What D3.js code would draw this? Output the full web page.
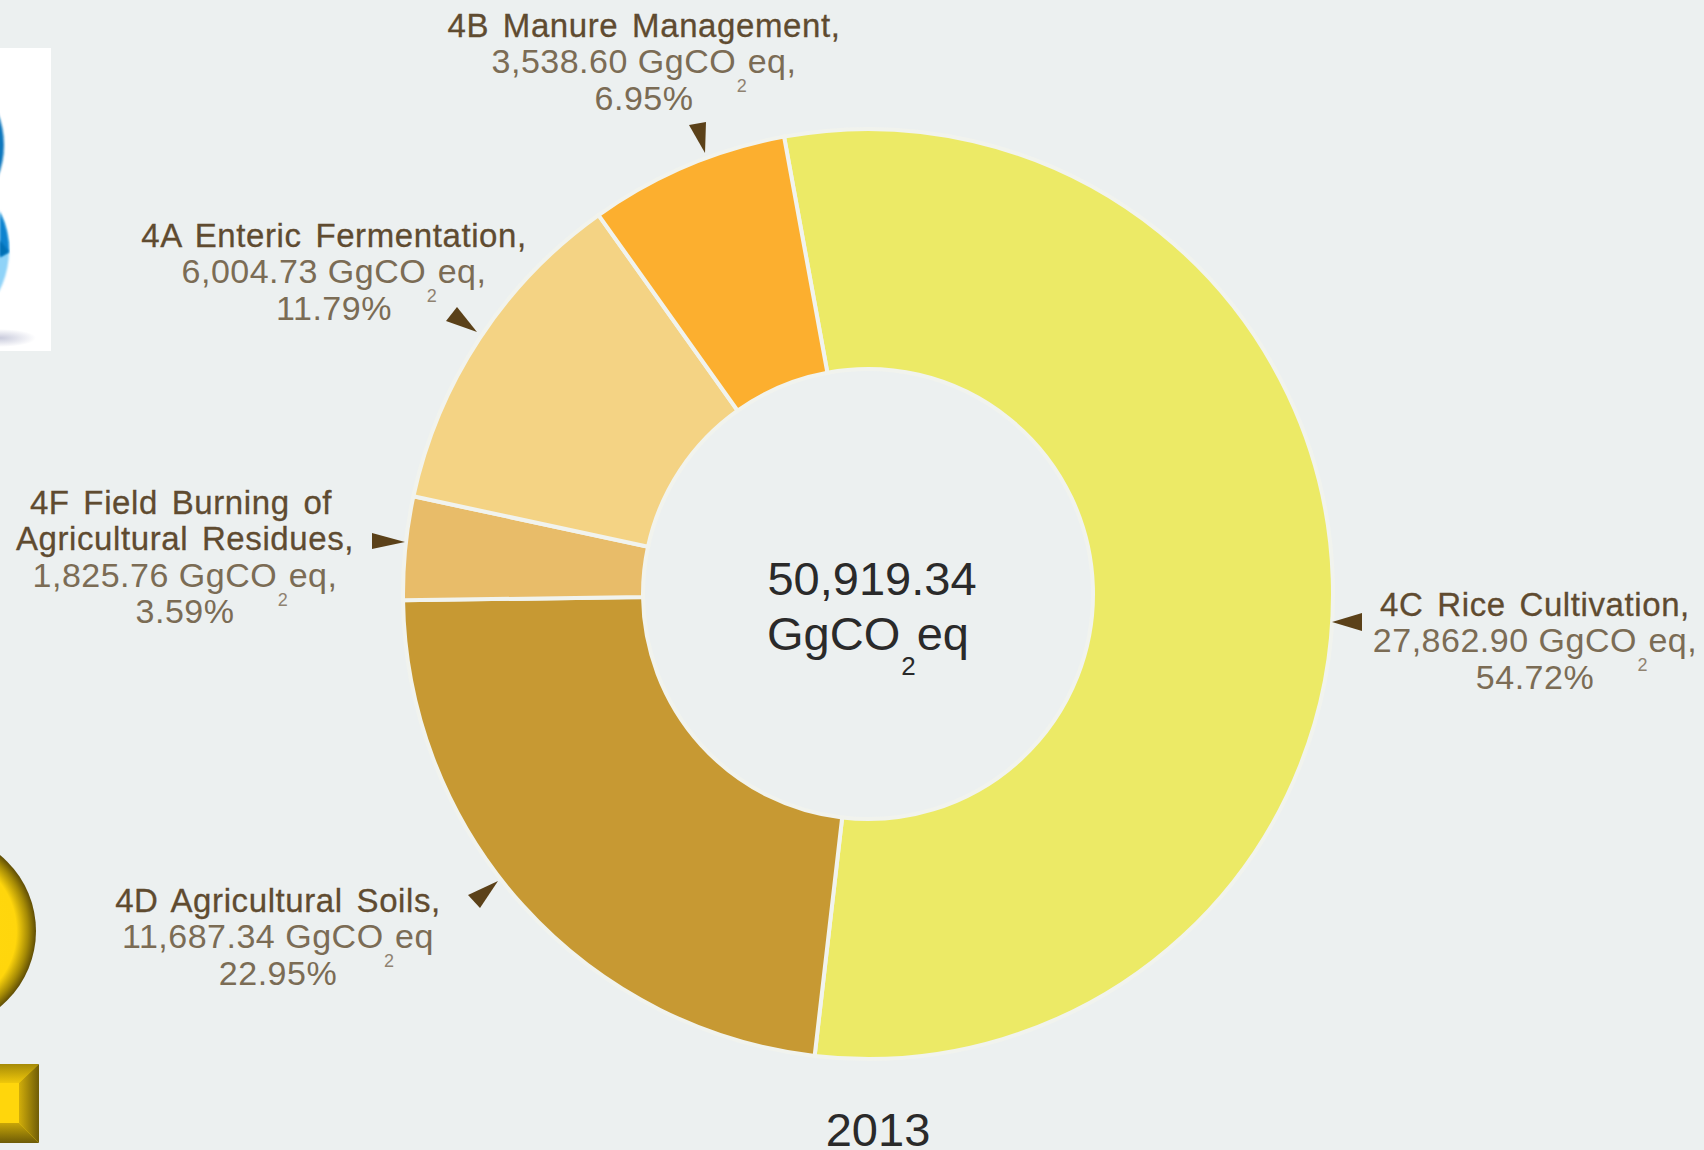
<!DOCTYPE html>
<html>
<head>
<meta charset="utf-8">
<script src="https://cdn.jsdelivr.net/npm/d3@7/dist/d3.min.js"></script>
<style>
html,body{margin:0;padding:0;background:#ecf0f0;}
svg{display:block;}
text{font-family:"Liberation Sans",Arial,sans-serif;}
</style>
</head>
<body>
<svg id="chart" width="1704" height="1150"></svg>
<script>
// Agriculture-sector emissions, 2013, in clockwise drawing order
const categories = ["4C Rice Cultivation,","4D Agricultural Soils,","4F Field Burning of Agricultural Residues,","4A Enteric Fermentation,","4B Manure Management,"];
const emissions = [27862.90, 11687.34, 1825.76, 6004.73, 3538.60];
const emissionLabels = ["27,862.90","11,687.34","1,825.76","6,004.73","3,538.60"];
const shareLabels = ["54.72%","22.95%","3.59%","11.79%","6.95%"];
const totalLabel = "50,919.34";
const yearLabel = "2013";
const palette = ["#ecea66","#c79933","#e8bc69","#f4d384","#fcaf2f"];

const W = 1704, H = 1150, cx = 868, cy = 594, outerR = 465, innerR = 225;
const startDeg = -10.4;

// Label placement: anchor x, first baseline, text after the unit
const placement = [
  {x:1535, y:616, unitEnd:","},
  {x:278,  y:912, unitEnd:""},
  {x:185,  y:514, unitEnd:",", firstDx:-4},
  {x:334,  y:247, unitEnd:","},
  {x:644,  y:37,  unitEnd:","}
];
// Pointer triangles placed as [tip, base, base]
const pointers = [
  [[1332,622],[1362,613],[1362,631]],
  [[498,881],[468,895],[480,908]],
  [[405,542],[372,533],[372,549]],
  [[477,332],[457,307],[446,321]],
  [[705,153],[689,125],[706,122]]
];

const svg = d3.select("#chart");
const defs = svg.append("defs");

// Bevel gradients for the clipped button shapes on the left edge
const rad = defs.append("radialGradient").attr("id","knob").attr("gradientUnits","userSpaceOnUse")
  .attr("cx",-62).attr("cy",931).attr("r",98);
[[0,"#ffd90f"],[0.8,"#ffd60c"],[0.92,"#a58a05"],[1,"#5f4d05"]].forEach(s=>rad.append("stop").attr("offset",s[0]).attr("stop-color",s[1]));
const bev = defs.append("linearGradient").attr("id","bevelR").attr("x1",0).attr("x2",1).attr("y1",0).attr("y2",0);
[[0,"#d2ae0a"],[1,"#6f5c06"]].forEach(s=>bev.append("stop").attr("offset",s[0]).attr("stop-color",s[1]));
const bevT = defs.append("linearGradient").attr("id","bevelT").attr("x1",0).attr("x2",0).attr("y1",0).attr("y2",1);
[[0,"#a58a08"],[1,"#f0c80a"]].forEach(s=>bevT.append("stop").attr("offset",s[0]).attr("stop-color",s[1]));
const bevB = defs.append("linearGradient").attr("id","bevelB").attr("x1",0).attr("x2",0).attr("y1",0).attr("y2",1);
[[0,"#c8a608"],[1,"#6d5b06"]].forEach(s=>bevB.append("stop").attr("offset",s[0]).attr("stop-color",s[1]));
const shadow = defs.append("radialGradient").attr("id","shade");
[[0,"#c9cbdc"],[1,"#ffffff"]].forEach(s=>shadow.append("stop").attr("offset",s[0]).attr("stop-color",s[1]));
defs.append("filter").attr("id","soft").append("feGaussianBlur").attr("stdDeviation",1);

// Left-edge panel with the two blue discs
const side = svg.append("g");
side.append("rect").attr("x",0).attr("y",48).attr("width",51).attr("height",303).attr("fill","#ffffff");
side.append("ellipse").attr("cx",0).attr("cy",338).attr("rx",36).attr("ry",9).attr("fill","url(#shade)");
side.append("circle").attr("cx",-83).attr("cy",145).attr("r",87).attr("fill","#0b77bd").attr("filter","url(#soft)");
side.append("circle").attr("cx",-77).attr("cy",251).attr("r",86).attr("fill","#8fd3f8").attr("filter","url(#soft)");
side.append("path").attr("d","M0,212 A86,86 0 0 1 9,252 L0,257 Z").attr("fill","#0a83cf").attr("filter","url(#soft)");
side.append("path").attr("d","M0,240 L9,252 L0,257 Z").attr("fill","#0570b5").attr("filter","url(#soft)");

// Gold round and square buttons
side.append("circle").attr("cx",-62).attr("cy",931).attr("r",98).attr("fill","url(#knob)");
side.append("rect").attr("x",-20).attr("y",1064).attr("width",59).attr("height",79).attr("rx",3).attr("fill","#ffd60c");
side.append("path").attr("d","M-20,1064 H39 L19,1083 H-20 Z").attr("fill","url(#bevelT)");
side.append("path").attr("d","M39,1064 V1143 L19,1123 V1083 Z").attr("fill","url(#bevelR)");
side.append("path").attr("d","M-20,1143 H39 L19,1123 H-20 Z").attr("fill","url(#bevelB)");

// Donut
const pie = d3.pie().sort(null).startAngle(startDeg*Math.PI/180).endAngle((startDeg+360)*Math.PI/180);
const arc = d3.arc().innerRadius(innerR).outerRadius(outerR);
svg.append("g").attr("transform",`translate(${cx},${cy})`)
  .selectAll("path").data(pie(emissions)).join("path")
  .attr("d",arc)
  .attr("fill",(d,i)=>palette[i])
  .attr("stroke","#f1f3ee").attr("stroke-width",4).attr("stroke-linejoin","miter");

// Pointers
svg.append("g").selectAll("path").data(pointers).join("path")
  .attr("d",d=>d3.line()(d)+"Z").attr("fill","#5b4119");

// "GgCO2eq" with a dropped subscript that sits between the two word parts
function unitText(sel, before, after, drop, subSize, gap){
  sel.append("tspan").text(before+"GgCO");
  sel.append("tspan").attr("dx",gap).attr("dy",drop).attr("font-size",subSize).attr("class","sub").text("2");
  sel.append("tspan").attr("dx",gap).attr("dy",-drop).text("eq"+after);
}

// Slice labels
const titleColor = "#5f4b30", bodyColor = "#7b6c55", lh = 36.4;
categories.forEach((name,i)=>{
  const p = placement[i];
  const g = svg.append("g").attr("text-anchor","middle");
  const lines = name === categories[2] ? ["4F Field Burning of","Agricultural Residues,"] : [name];
  lines.forEach((t,k)=>g.append("text").attr("x",p.x+(k===0&&p.firstDx?p.firstDx:0)).attr("y",p.y+k*lh)
    .attr("font-size",33).style("letter-spacing","0.6px").style("word-spacing","4px")
    .attr("fill",titleColor).attr("stroke",titleColor).attr("stroke-width",0.3).text(t));
  const y2 = p.y+lines.length*lh;
  const body = g.append("text").attr("x",p.x).attr("y",y2).attr("font-size",34).style("letter-spacing","0.5px").attr("fill",bodyColor);
  unitText(body, emissionLabels[i]+" ", p.unitEnd, 19, 18, 0.5);
  body.select(".sub").attr("fill","#8f8270");
  g.append("text").attr("x",p.x).attr("y",y2+lh).attr("font-size",34).style("letter-spacing","0.5px").attr("fill",bodyColor).text(shareLabels[i]);
});

// Centre total and year
const centre = svg.append("g").attr("text-anchor","middle").attr("fill","#2a2a2a").attr("font-size",47);
centre.append("text").attr("x",872).attr("y",595).text(totalLabel);
unitText(centre.append("text").attr("x",868).attr("y",650), "", "", 25, 26, 1);
centre.append("text").attr("x",878).attr("y",1146).text(yearLabel);
</script>
</body>
</html>
